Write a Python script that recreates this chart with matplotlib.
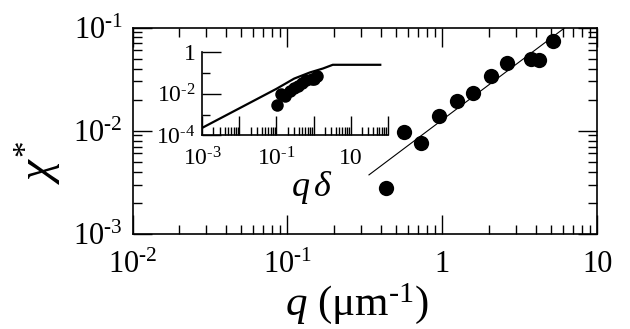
import matplotlib
matplotlib.use("Agg")
import matplotlib.pyplot as plt
from matplotlib.ticker import FixedLocator, FixedFormatter, NullFormatter, LogLocator

plt.rcParams['font.family'] = ['Liberation Serif', 'DejaVu Serif']
plt.rcParams['mathtext.fontset'] = 'custom'
plt.rcParams['mathtext.rm'] = 'Liberation Serif'
plt.rcParams['mathtext.it'] = 'Liberation Serif:italic'
plt.rcParams['mathtext.bf'] = 'Liberation Serif:bold'

# ---- data (main panel) ----
q = [0.431, 0.565, 0.728, 0.95, 1.24, 1.58, 2.05, 2.63, 3.72, 4.23, 5.21]
chi = [0.00278, 0.0097, 0.0076, 0.0139, 0.0194, 0.023, 0.0337, 0.045, 0.0497, 0.0489, 0.0736]
fit_q = [0.336, 6.2]
fit_chi = [0.00372, 0.1]

# ---- data (inset) ----
qdelta = [0.104, 0.136, 0.175, 0.228, 0.298, 0.379, 0.49, 0.63, 0.89, 1.02, 1.25]
chi_in = [0.00278, 0.0097, 0.0076, 0.0139, 0.0194, 0.023, 0.0337, 0.045, 0.0497, 0.0489, 0.0736]
theory_qd = [1e-3, 1e-2, 1e-1, 0.3, 0.8, 1.8, 3.3, 63]
theory_chi = [2.3e-4, 2.0e-3, 1.74e-2, 5.4e-2, 1.07e-1, 1.66e-1, 2.5e-1, 2.5e-1]

# ---- ticks ----
main_xticks = [1e-2, 1e-1, 1, 10]
main_xlabels = [r'$10^{\text{-}2}$', r'$10^{\text{-}1}$', '1', '10']
main_yticks = [1e-3, 1e-2, 1e-1]
main_ylabels = [r'$10^{\text{-}3}$', r'$10^{\text{-}2}$', r'$10^{\text{-}1}$']
in_xticks = [1e-3, 1e-2, 1e-1, 1, 10, 100]
in_xlabels = [r'$10^{\text{-}3}$', '', r'$10^{\text{-}1}$', '', '10', '']
in_yticks = [1e-4, 1e-2, 1]
in_ylabels = [r'$10^{\text{-}4}$', r'$10^{\text{-}2}$', '1']
in_yminor = [1e-3, 1e-1]

W, H = 630, 329
fig = plt.figure(figsize=(6.3, 3.29), dpi=100)

# main axes
L, R, T, B = 132.5, 597.3, 27.5, 233.7
ax = fig.add_axes([L / W, 1 - B / H, (R - L) / W, (B - T) / H])
ax.set_xscale('log')
ax.set_yscale('log')
ax.set_xlim(1e-2, 10)
ax.set_ylim(1e-3, 1e-1)
ax.plot(fit_q, fit_chi, color='black', lw=0.8)
ax.plot(q, chi, 'o', color='black', ms=11, mec='none')
ax.xaxis.set_major_locator(FixedLocator(main_xticks))
ax.xaxis.set_major_formatter(FixedFormatter(main_xlabels))
ax.yaxis.set_major_locator(FixedLocator(main_yticks))
ax.yaxis.set_major_formatter(FixedFormatter(main_ylabels))
ax.xaxis.set_minor_locator(LogLocator(base=10, subs=range(2, 10), numticks=20))
ax.yaxis.set_minor_locator(LogLocator(base=10, subs=range(2, 10), numticks=20))
ax.xaxis.set_minor_formatter(NullFormatter())
ax.yaxis.set_minor_formatter(NullFormatter())
ax.tick_params(which='both', direction='in', top=True, right=True, width=1.0, color='black')
ax.tick_params(which='major', length=13.5)
ax.tick_params(which='minor', length=6.5)
ax.tick_params(axis='x', which='major', labelsize=22, pad=12)
ax.tick_params(axis='y', which='major', labelsize=22, pad=7)
for s in ax.spines.values():
    s.set_linewidth(1.2)

fig.text(357 / W, 1 - 304 / H, r'$q$ ($\mathrm{\mu}$m$^{\text{-}1}$)', fontsize=31,
         ha='center', va='center')
fig.text(38 / W, 1 - 162 / H, r'$\chi^{\text{*}}$', fontsize=34, rotation=90,
         ha='center', va='center')

# inset axes
iL, iR, iT, iB = 202.3, 387.7, 52.3, 135.3
ai = fig.add_axes([iL / W, 1 - iB / H, (iR - iL) / W, (iB - iT) / H])
ai.set_xscale('log')
ai.set_yscale('log')
ai.set_xlim(1e-3, 100)
ai.set_ylim(1e-4, 1)
ai.patch.set_alpha(0)
ai.plot(theory_qd, theory_chi, color='black', lw=1.6)
ai.plot(qdelta, chi_in, 'o', color='black', ms=9, mec='none')
for side in ('top', 'right'):
    ai.spines[side].set_visible(False)
for side in ('left', 'bottom'):
    ai.spines[side].set_linewidth(1.2)
ai.xaxis.set_major_locator(FixedLocator(in_xticks))
ai.xaxis.set_major_formatter(FixedFormatter(in_xlabels))
ai.xaxis.set_minor_locator(LogLocator(base=10, subs=range(2, 10), numticks=20))
ai.xaxis.set_minor_formatter(NullFormatter())
ai.yaxis.set_major_locator(FixedLocator(in_yticks))
ai.yaxis.set_major_formatter(FixedFormatter(in_ylabels))
ai.yaxis.set_minor_locator(FixedLocator(in_yminor))
ai.yaxis.set_minor_formatter(NullFormatter())
ai.tick_params(which='both', direction='in', top=False, right=False, width=1.0, color='black')
ai.tick_params(which='major', length=13.5, labelsize=17)
ai.tick_params(axis='x', which='major', pad=9)
ai.tick_params(axis='y', which='major', pad=5)
ai.tick_params(which='minor', length=6)
fig.text(312 / W, 1 - 188 / H, r'$q\,\delta$', fontsize=26, ha='center', va='center')

fig.savefig('out.png', dpi=100)
